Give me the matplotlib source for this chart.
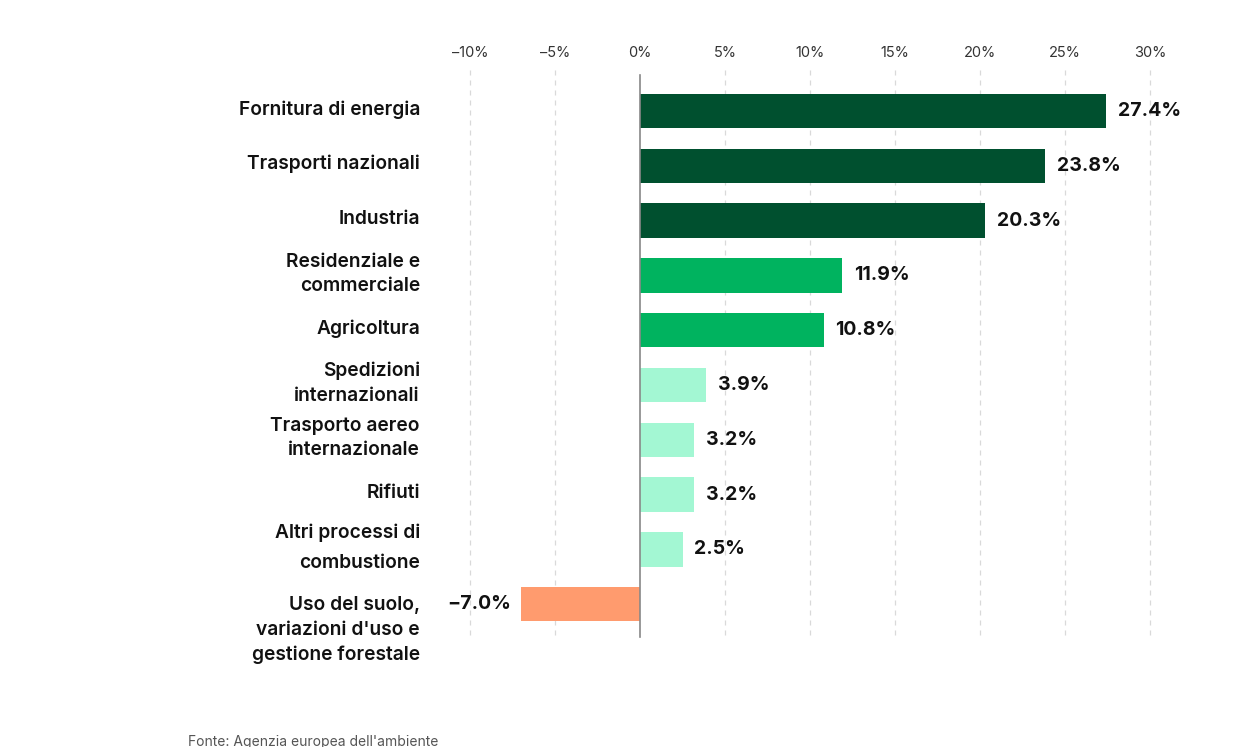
import matplotlib
matplotlib.use("Agg")
import matplotlib.pyplot as plt

plt.rcParams['font.family'] = ['Inter', 'DejaVu Sans']

# emission shares by sector (%)
sectors = [
    "Fornitura di energia",
    "Trasporti nazionali",
    "Industria",
    "Residenziale e\ncommerciale",
    "Agricoltura",
    "Spedizioni\ninternazionali",
    "Trasporto aereo\ninternazionale",
    "Rifiuti",
    "Altri processi di\ncombustione",
    "Uso del suolo,\nvariazioni d'uso e\ngestione forestale",
]
shares = [27.4, 23.8, 20.3, 11.9, 10.8, 3.9, 3.2, 3.2, 2.5, -7.0]
bar_colors = ["#00502f", "#00502f", "#00502f",
              "#00b35f", "#00b35f",
              "#a3f7d3", "#a3f7d3", "#a3f7d3", "#a3f7d3",
              "#ff9b6e"]
tick_vals = [-10, -5, 0, 5, 10, 15, 20, 25, 30]
tick_labels = ["–10%", "–5%", "0%", "5%", "10%", "15%", "20%", "25%", "30%"]
source = "Fonte: Agenzia europea dell'ambiente"

W, H = 1250, 747
fig = plt.figure(figsize=(W / 100, H / 100), dpi=100)
fig.patch.set_facecolor("white")

# axes box in pixels
left_px, right_px, top_px, bot_px = 430, 1200, 70, 650
ax = fig.add_axes([left_px / W, 1 - bot_px / H,
                   (right_px - left_px) / W, (bot_px - top_px) / H])
px_per_pct = 17.0
ax.set_xlim((left_px - 640) / px_per_pct, (right_px - 640) / px_per_pct)
row_px = 54.8
ax.set_ylim((bot_px - 111) / row_px, (top_px - 111) / row_px)

for s in ax.spines.values():
    s.set_visible(False)
ax.set_yticks([])
ax.xaxis.tick_top()
ax.set_xticks(tick_vals)
ax.set_xticklabels(tick_labels, fontsize=10.5, color="#333333")
ax.tick_params(axis="x", length=0, pad=7)

# dashed grid and zero line
for v in tick_vals:
    if v == 0:
        ax.plot([0, 0], [-0.65, 9.6], color="#888888", lw=1.2, zorder=3)
    else:
        ax.plot([v, v], [-0.75, 9.6], color="#d9d9d9", lw=0.9,
                ls=(0, (4, 4)), zorder=0)

ys = list(range(len(shares)))
ax.barh(ys, shares, height=0.63, color=bar_colors, zorder=2)

# value labels
for y, v in zip(ys, shares):
    if v >= 0:
        ax.text(v + 0.7, y, f"{v:.1f}%", ha="left", va="center",
                fontsize=14, fontweight="bold", color="#111111")
    else:
        ax.text(v - 0.6, y, f"−{abs(v):.1f}%", ha="right", va="center",
                fontsize=14, fontweight="bold", color="#111111")

# category labels
lx = (420 - left_px) / (right_px - left_px)
trans = ax.get_yaxis_transform()
for y, name in zip(ys, sectors):
    spacing = 1.45
    yy = y - 0.03
    if name.startswith("Altri"):
        spacing = 1.8
    if name.startswith("Uso"):
        yy = y + 0.47
    ax.text(lx, yy, name, transform=trans, ha="right", va="center",
            fontsize=13.8, fontweight="semibold", color="#111111",
            linespacing=spacing, clip_on=False)

fig.text(188 / W, 1 - 742 / H, source, ha="left", va="center",
         fontsize=10, color="#555555")

fig.savefig("out.png", dpi=100, facecolor="white")
